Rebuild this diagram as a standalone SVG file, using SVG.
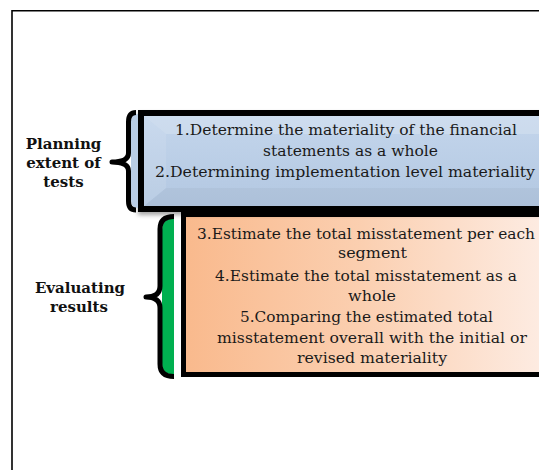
<svg xmlns="http://www.w3.org/2000/svg" width="539" height="470" viewBox="0 0 539 470">
  <defs>
    <linearGradient id="blueGrad" x1="0" y1="0" x2="0" y2="1">
      <stop offset="0" stop-color="#c4d6ec"/>
      <stop offset="1" stop-color="#b2c7e1"/>
    </linearGradient>
    <linearGradient id="orangeGrad" x1="181" y1="0" x2="539" y2="0" gradientUnits="userSpaceOnUse">
      <stop offset="0" stop-color="#f9b98c"/>
      <stop offset="0.5" stop-color="#fbcfb0"/>
      <stop offset="1" stop-color="#fdebe1"/>
    </linearGradient>
    <filter id="shadow" x="-10%" y="-10%" width="130%" height="140%">
      <feDropShadow dx="0" dy="3" stdDeviation="2" flood-color="#000" flood-opacity="0.35"/>
    </filter>
    <style>
      .frame { fill: none; stroke: #000; stroke-width: 1.6; }
      .boxline { stroke: #000; stroke-width: 6; }
      .brace { fill: none; stroke: #000; stroke-width: 5; stroke-linejoin: round; stroke-linecap: butt; }
      .label { font-family: "DejaVu Serif", "Liberation Serif", serif; font-weight: bold; font-size: 15px; fill: #111; text-anchor: middle; }
      .body { font-family: "DejaVu Serif", "Liberation Serif", serif; font-size: 15px; fill: #1a1a1a; }
    </style>
  </defs>

  <g id="frame">
    <polyline class="frame" points="12,470 12,10.8 539,10.8"/>
  </g>

  <g id="box-evaluating">
    <rect x="183.5" y="214.5" width="370" height="160" fill="url(#orangeGrad)" stroke="#000" stroke-width="5"/>
    <text class="body" x="197" y="239" textLength="338" lengthAdjust="spacingAndGlyphs">3.Estimate the total misstatement per each</text>
    <text class="body" x="338" y="258" textLength="69" lengthAdjust="spacingAndGlyphs">segment</text>
    <text class="body" x="215" y="281" textLength="302" lengthAdjust="spacingAndGlyphs">4.Estimate the total misstatement as a</text>
    <text class="body" x="348" y="301" textLength="48" lengthAdjust="spacingAndGlyphs">whole</text>
    <text class="body" x="240" y="322" textLength="253" lengthAdjust="spacingAndGlyphs">5.Comparing the estimated total</text>
    <text class="body" x="217" y="343" textLength="310" lengthAdjust="spacingAndGlyphs">misstatement overall with the initial or</text>
    <text class="body" x="297" y="363" textLength="150" lengthAdjust="spacingAndGlyphs">revised materiality</text>
  </g>

  <g id="box-planning">
    <rect x="141" y="113" width="420" height="96" fill="url(#blueGrad)" class="boxline" filter="url(#shadow)"/>
    <polygon points="144,116 560,116 540,134 166,134" fill="#ffffff" fill-opacity="0.18"/>
    <polygon points="144,116 166,134 166,188 144,206" fill="#ffffff" fill-opacity="0.10"/>
    <polygon points="144,206 166,188 540,188 560,206" fill="#000000" fill-opacity="0.03"/>
    <text class="body" x="175" y="135" textLength="342" lengthAdjust="spacingAndGlyphs">1.Determine the materiality of the financial</text>
    <text class="body" x="263" y="156" textLength="175" lengthAdjust="spacingAndGlyphs">statements as a whole</text>
    <text class="body" x="155" y="177" textLength="380" lengthAdjust="spacingAndGlyphs">2.Determining implementation level materiality</text>
  </g>

  <g id="connectors">
    <path d="M138,114 Q131,114 131,122 L131,200 Q131,208 138,208 Z" fill="#b9cde5"/>
    <path class="brace" d="M136,112.5 Q128.5,112.5 128.5,122 L128.5,153 Q128.5,162 112,162 Q128.5,162 128.5,171 L128.5,201 Q128.5,210 136,210"/>
    <path d="M174,218.5 Q162,218.5 162,230 L162,363 Q162,374.5 174,374.5 Z" fill="#00b050"/>
    <path class="brace" d="M174,216.5 Q160,216.5 160,229 L160,286 Q160,297 146,297 Q160,297 160,308 L160,364 Q160,376.5 174,376.5"/>
  </g>

  <g id="label-planning">
    <text class="label" x="63.5" y="149">Planning</text>
    <text class="label" x="63.5" y="168">extent of</text>
    <text class="label" x="63.5" y="187">tests</text>
  </g>

  <g id="label-evaluating">
    <text class="label" x="80" y="293">Evaluating</text>
    <text class="label" x="79" y="312">results</text>
  </g>
</svg>
